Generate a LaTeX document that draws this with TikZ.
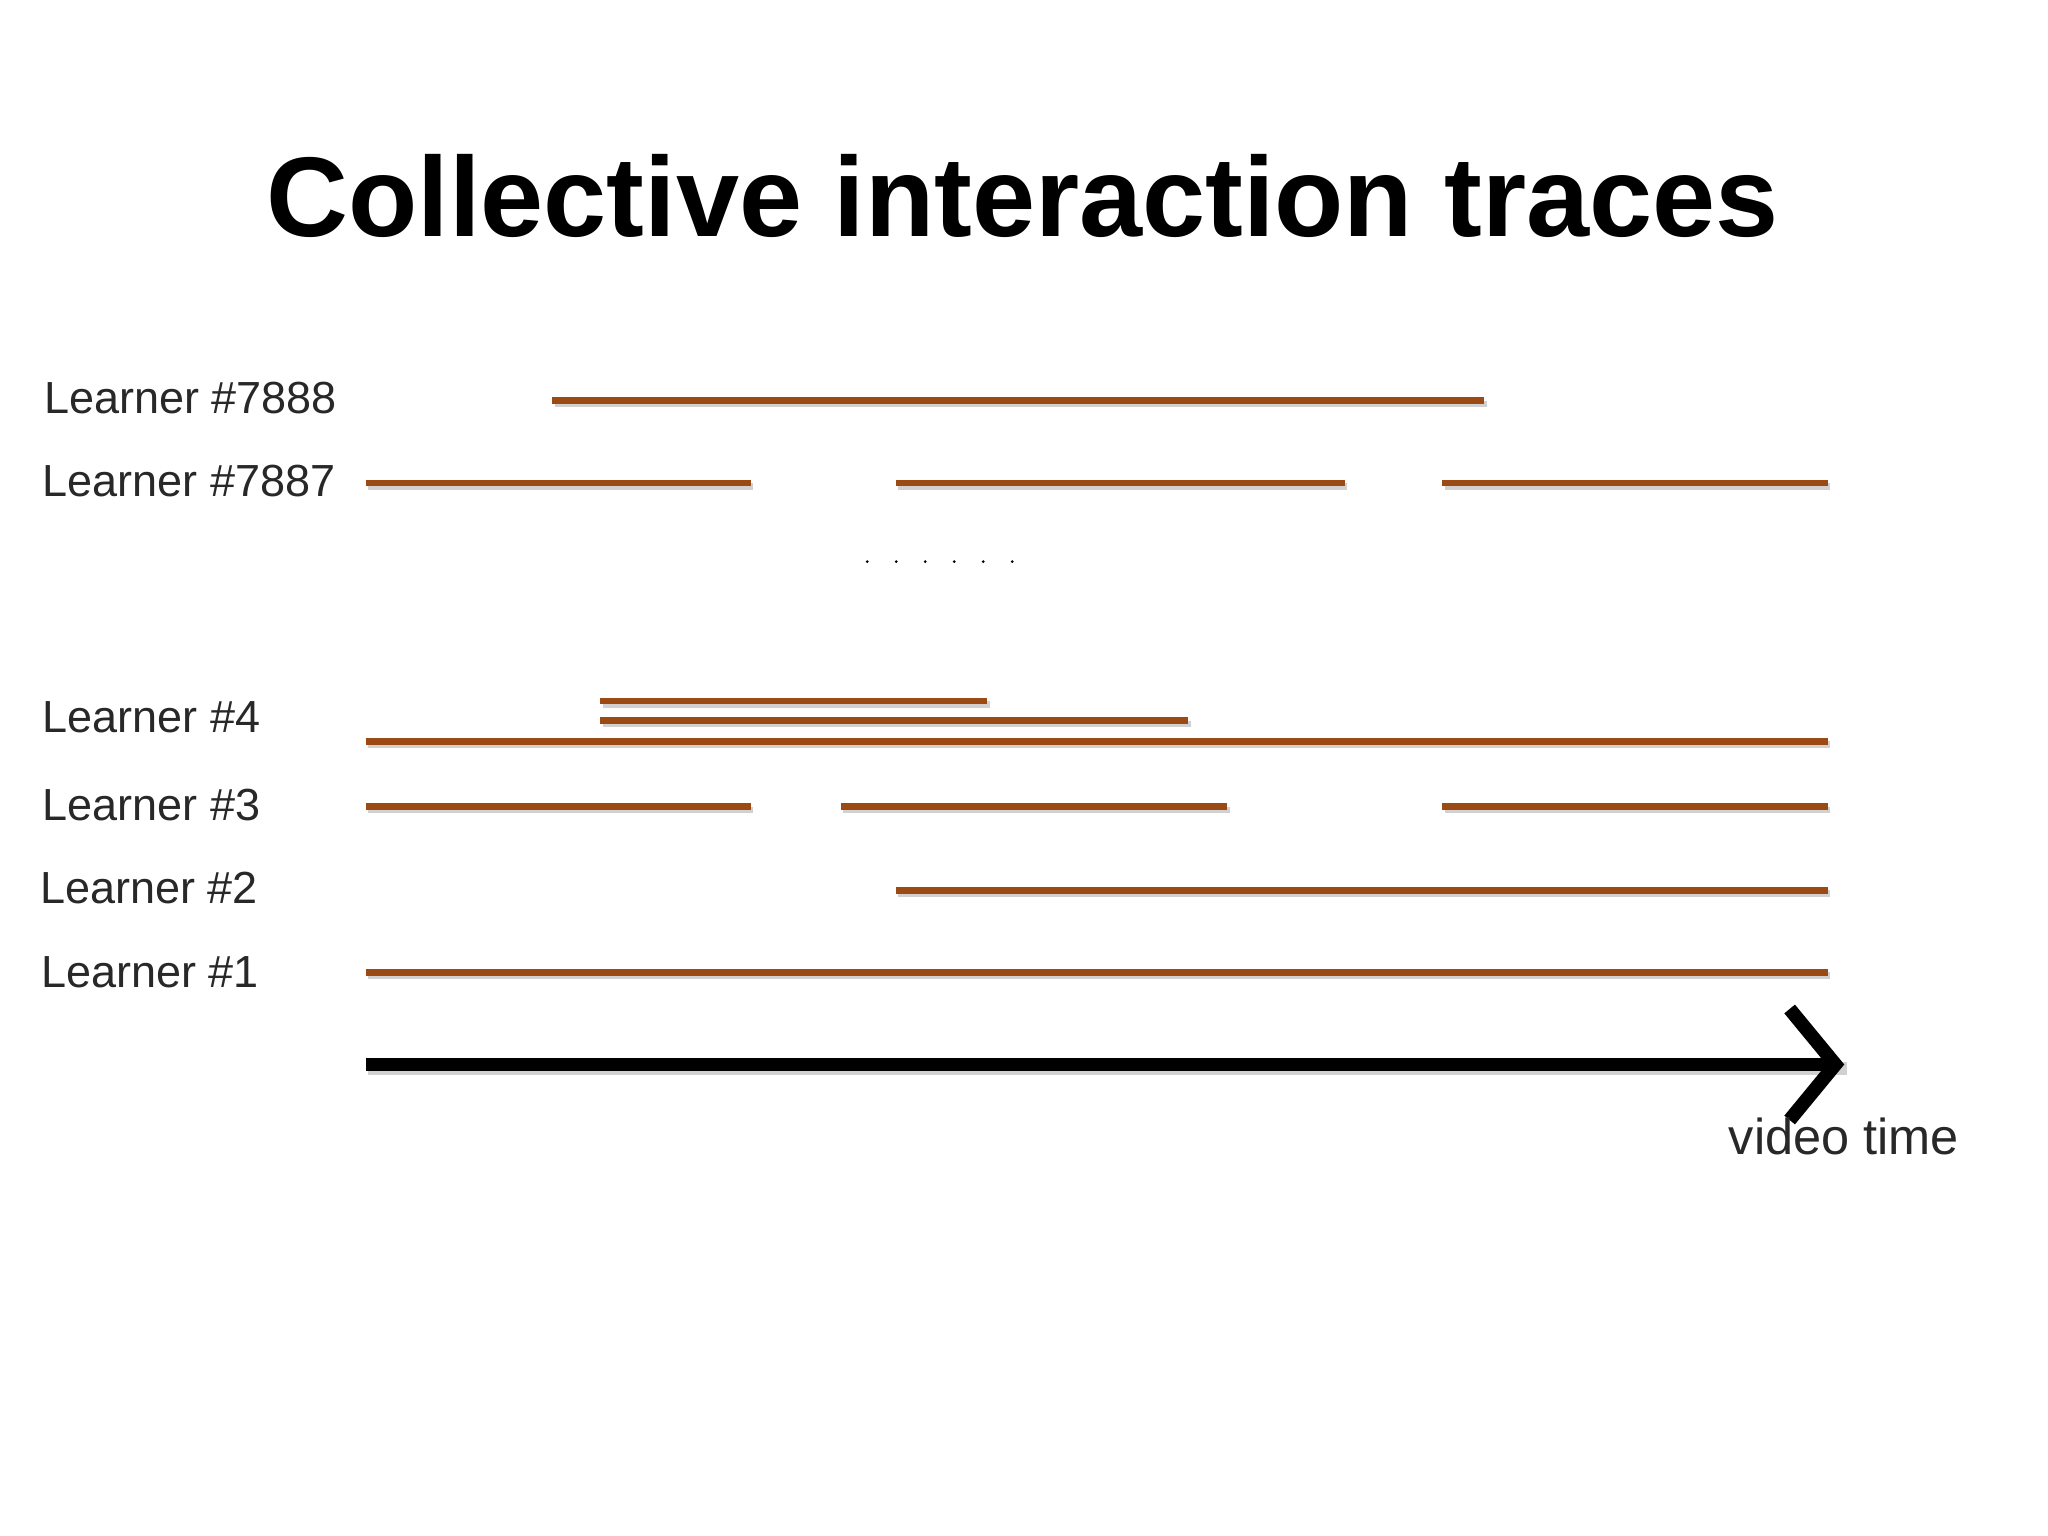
\documentclass[tikz,border=0pt]{standalone}
\usepackage{fontspec}
\setmainfont{Liberation Sans}
\usetikzlibrary{arrows.meta}
\definecolor{trace}{RGB}{154,74,18}
\definecolor{lbl}{RGB}{40,40,40}
\tikzset{
  tr/.style={trace,line width=1.45pt},
  sh/.style={black!18,line width=1.45pt},
  lab/.style={anchor=west,inner sep=0pt,font=\fontsize{9.8pt}{11pt}\selectfont,text=lbl},
}
\newcommand{\seg}[3]{%
  \draw[sh] (#1*0.01+0.02,-#3*0.01-0.025) -- (#2*0.01+0.02,-#3*0.01-0.025);
  \draw[tr] (#1*0.01,-#3*0.01) -- (#2*0.01,-#3*0.01);}
\begin{document}
\begin{tikzpicture}
\useasboundingbox (0,0) rectangle (15.68,-11.76);
\node[font=\bfseries\fontsize{24.7pt}{28pt}\selectfont] (title) at (7.83,-1.50) {Collective interaction traces};
\node[lab] (l7888) at (0.33,-3.05) {Learner \#7888};
\node[lab] (l7887) at (0.32,-3.68) {Learner \#7887};
\node[lab] (l4) at (0.32,-5.49) {Learner \#4};
\node[lab] (l3) at (0.32,-6.16) {Learner \#3};
\node[lab] (l2) at (0.30,-6.80) {Learner \#2};
\node[lab] (l1) at (0.31,-7.44) {Learner \#1};
\seg{423}{1137}{307}
\seg{280}{575}{370}\seg{686}{1030}{370}\seg{1105}{1400}{370}
\foreach \x in {0,...,5} \fill (6.64+\x*0.222,-4.30) circle (0.012);
\seg{460}{756}{537}\seg{460}{910}{552}\seg{280}{1400}{568}
\seg{280}{575}{618}\seg{644}{940}{618}\seg{1105}{1400}{618}
\seg{686}{1400}{682}
\seg{280}{1400}{745}
\coordinate (a0) at (2.80,-8.15);
\coordinate (a1) at (14.12,-8.15);
\draw[black!18,line width=3pt] ([shift={(0.02,-0.03)}]a0) -- ([shift={(0.02,-0.03)}]a1);
\draw[line width=3pt,-{Straight Barb[length=3.5mm,width=8.5mm,line width=3pt]}] (a0) -- (a1);
\node[anchor=west,inner sep=0pt,font=\fontsize{11pt}{13pt}\selectfont,text=lbl] (vt) at (13.23,-8.70) {video time};
\end{tikzpicture}
\end{document}
